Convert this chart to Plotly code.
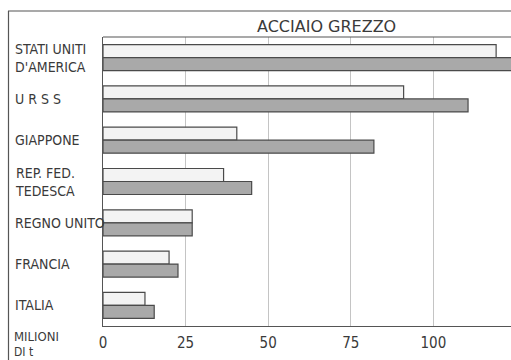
import plotly.graph_objects as go

paesi = ["STATI UNITI<br>D'AMERICA", "URSS", "GIAPPONE", "REP. FED.<br>TEDESCA",
         "REGNO UNITO", "FRANCIA", "ITALIA"]
etichette = ["STATI UNITI<br>D'AMERICA", "U R S S", "GIAPPONE", "REP. FED.<br>TEDESCA",
             "REGNO UNITO", "FRANCIA", "ITALIA"]
serie_chiara = [119, 91, 40.5, 36.5, 27, 20, 12.7]
serie_scura = [128, 110.5, 82, 45, 27, 22.7, 15.5]
tick_vals = [0, 25, 50, 75, 100]
titolo = "ACCIAIO GREZZO"
unita_1 = "MILIONI"
unita_2 = "DI t"

FONT = "DejaVu Sans Condensed"
TXT = "#3a3a3a"

fig = go.Figure()
fig.add_trace(go.Bar(y=paesi, x=serie_chiara, orientation="h",
                     marker=dict(color="#f3f3f3", line=dict(color="#4a4a4a", width=1.2)),
                     showlegend=False))
fig.add_trace(go.Bar(y=paesi, x=serie_scura, orientation="h",
                     marker=dict(color="#a9a9a9", line=dict(color="#4a4a4a", width=1.2)),
                     showlegend=False))

W, H = 511, 360
L, T, R = 103, 37, 0
B = H - 326
pw = W - L - R
ph = H - T - B

def px(x):
    return (x - L) / pw

def py(y):
    return (H - B - y) / ph

annotations = []
for p, e in zip(paesi, etichette):
    annotations.append(dict(x=px(13), xref="paper", y=p, yref="y", text=e,
                            showarrow=False, xanchor="left", yanchor="middle",
                            align="left", font=dict(family=FONT, size=14, color=TXT)))
annotations.append(dict(x=px(13), xref="paper", y=py(336), yref="paper", text=unita_1,
                        showarrow=False, xanchor="left", yanchor="middle", align="left",
                        borderpad=0, font=dict(family=FONT, size=13, color=TXT)))
annotations.append(dict(x=px(13), xref="paper", y=py(352), yref="paper", text=unita_2,
                        showarrow=False, xanchor="left", yanchor="middle", align="left",
                        borderpad=0, font=dict(family=FONT, size=12, color=TXT)))
annotations.append(dict(x=px(326), xref="paper", y=py(26.5), yref="paper", text=titolo,
                        showarrow=False, xanchor="center", yanchor="middle",
                        font=dict(family="DejaVu Sans", size=16, color=TXT)))

shapes = [
    dict(type="line", xref="paper", yref="paper", x0=px(8.5), x1=px(8.5), y0=py(11), y1=py(360),
         line=dict(color="#555", width=1.2)),
    dict(type="line", xref="paper", yref="paper", x0=px(8), x1=1, y0=py(11), y1=py(11),
         line=dict(color="#555", width=1.2)),
    dict(type="line", xref="paper", yref="paper", x0=0, x1=1, y0=1, y1=1,
         line=dict(color="#555", width=1.2)),
]

fig.update_layout(
    width=W, height=H,
    margin=dict(l=L, r=R, t=T, b=B),
    paper_bgcolor="white", plot_bgcolor="white",
    barmode="group", bargap=0.37, bargroupgap=0,
    annotations=annotations, shapes=shapes,
    xaxis=dict(range=[0, 123.5], tickvals=tick_vals, showgrid=True, gridcolor="#c4c4c4",
               gridwidth=1, zeroline=False, showline=True, linecolor="#555", linewidth=1.2,
               ticks="", ticklabelstandoff=3,
               tickfont=dict(family=FONT, size=15, color=TXT)),
    yaxis=dict(autorange="reversed", showticklabels=False, showgrid=False, zeroline=False,
               showline=True, linecolor="#555", linewidth=1.2, ticks=""),
)

fig.write_html("out.html", config={"displayModeBar": False},
               post_script="document.body.style.margin='0';document.body.style.overflow='hidden';")
